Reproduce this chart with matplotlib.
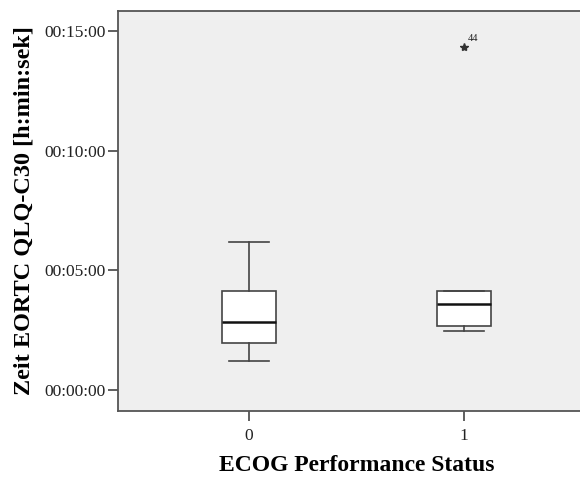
import matplotlib.pyplot as plt

plt.rcParams['font.family'] = ['Liberation Serif', 'DejaVu Serif']

# box statistics, in seconds
groups = ['0', '1']
whisker_low = [73, 149]
q1 = [118, 161]
median = [170, 215]
q3 = [249, 249]
whisker_high = [372, 249]
outliers = [[], [860]]
outlier_labels = [[], ['44']]

ticks_sec = [0, 300, 600, 900]
tick_labels = ['00:00:00', '00:05:00', '00:10:00', '00:15:00']

stats = []
for i in range(len(groups)):
    stats.append({
        'whislo': whisker_low[i], 'q1': q1[i], 'med': median[i],
        'q3': q3[i], 'whishi': whisker_high[i], 'fliers': [],
    })

fig = plt.figure(figsize=(5.8, 4.79), dpi=100)
ax = fig.add_axes([118 / 580, 1 - 411 / 479, (595 - 118) / 580, 400 / 479])
ax.set_facecolor('#efefef')

pos = list(range(len(groups)))
ax.bxp(stats, positions=pos, widths=0.255, patch_artist=True,
       boxprops=dict(facecolor='white', edgecolor='#444444', linewidth=1.2),
       medianprops=dict(color='#111111', linewidth=1.8),
       whiskerprops=dict(color='#444444', linewidth=1.2),
       capprops=dict(color='#444444', linewidth=1.2),
       capwidths=0.19, showfliers=False)

for i in range(len(groups)):
    for v, lab in zip(outliers[i], outlier_labels[i]):
        ax.plot(pos[i], v, marker='*', color='#333333', markersize=6, linestyle='none')
        ax.annotate(lab, (pos[i], v), xytext=(3, 4), textcoords='offset points',
                    fontsize=7.5, color='#222222')

ax.set_xlim(-0.609, 1.609)
ax.set_ylim(-52, 950)
ax.set_xticks(pos)
ax.set_xticklabels(groups)
ax.set_yticks(ticks_sec)
ax.set_yticklabels(tick_labels)
ax.tick_params(axis='both', labelsize=12.5, length=7, width=1.2,
               color='#444444', labelcolor='#222222')
ax.tick_params(axis='x', pad=5)
ax.tick_params(axis='y', pad=2)
for s in ax.spines.values():
    s.set_color('#555555')
    s.set_linewidth(1.3)

ax.set_xlabel('ECOG Performance Status', fontsize=17, fontweight='bold', labelpad=8)
ax.set_ylabel('Zeit EORTC QLQ-C30 [h:min:sek]', fontsize=17.5, fontweight='bold', labelpad=7)

fig.savefig('out.png', dpi=100)
